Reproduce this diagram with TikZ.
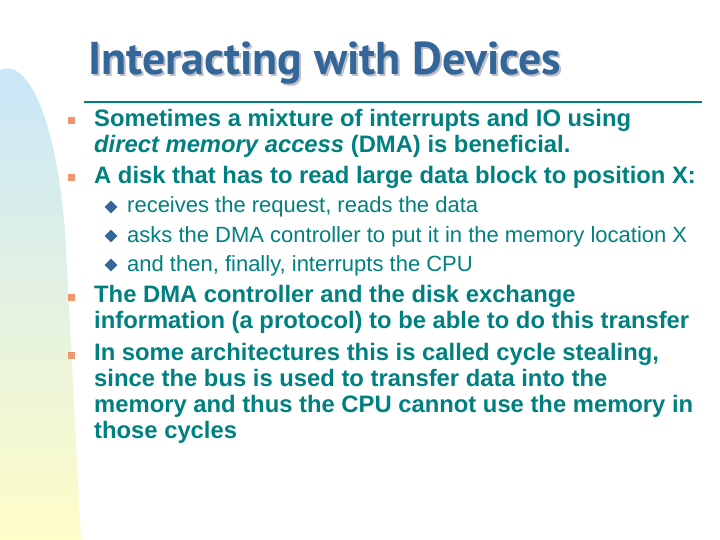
\documentclass[tikz,border=0pt]{standalone}
\usepackage{fontspec}
\setmainfont{Liberation Sans}
\newfontfamily\titlefont{PT Sans}
\definecolor{tealtxt}{RGB}{0,128,128}
\definecolor{titleblue}{RGB}{51,102,153}
\definecolor{shadowgray}{RGB}{190,190,200}
\definecolor{bulor}{RGB}{240,150,110}
\definecolor{topblue}{RGB}{200,230,250}
\definecolor{botyel}{RGB}{255,253,200}
\usetikzlibrary{shapes.geometric}
\begin{document}
\begin{tikzpicture}[x=1pt,y=-1pt,
  main/.style={anchor=base west,inner sep=0pt,text=tealtxt,font=\fontsize{23.8}{26}\selectfont\bfseries},
  sub/.style={anchor=base west,inner sep=0pt,text=tealtxt,font=\fontsize{22}{24}\selectfont},
  sq/.style={fill=bulor,minimum size=7pt,inner sep=0pt},
  dia/.style={diamond,fill=titleblue,minimum size=13pt,inner sep=0pt}]
\useasboundingbox (0,0) rectangle (720,540);
\shade[top color=topblue,bottom color=botyel] (0,540) -- (0,70) .. controls (25,58) and (55,110) .. (65,230) -- (81,540) -- cycle;
\node[anchor=base west,inner sep=0pt,text=shadowgray,font=\titlefont\fontsize{46}{50}\selectfont\bfseries] (ts) at (90,77) {Interacting with Devices};
\node[anchor=base west,inner sep=0pt,text=titleblue,font=\titlefont\fontsize{46}{50}\selectfont\bfseries] (t) at (88,75) {Interacting with Devices};
\coordinate (la) at (84,102); \coordinate (lb) at (702,102);
\draw[tealtxt,line width=1.5pt] (la) -- (lb);
\node[sq] (b1) at (71,121) {};
\node[main] (m1) at (94,127) {Sometimes a mixture of interrupts and IO using};
\node[main] (m2) at (94,153) {\itshape direct memory access\/ \upshape(DMA) is beneficial.};
\node[sq] (b2) at (71,178) {};
\node[main] (m3) at (94,184) {A disk that has to read large data block to position X:};
\node[dia] (d1) at (111,207) {};
\node[sub] (s1) at (127,213) {receives the request, reads the data};
\node[dia] (d2) at (111,236) {};
\node[sub] (s2) at (127,242) {asks the DMA controller to put it in the memory location X};
\node[dia] (d3) at (111,265) {};
\node[sub] (s3) at (127,271) {and then, finally, interrupts the CPU};
\node[sq] (b3) at (71,297) {};
\node[main] (m4) at (94,302) {The DMA controller and the disk exchange};
\node[main] (m5) at (94,328) {information (a protocol) to be able to do this transfer};
\node[sq] (b4) at (71,355) {};
\node[main] (m6) at (94,360) {In some architectures this is called cycle stealing,};
\node[main] (m7) at (94,386) {since the bus is used to transfer data into the};
\node[main] (m8) at (94,412) {memory and thus the CPU cannot use the memory in};
\node[main] (m9) at (94,438) {those cycles};
\end{tikzpicture}
\end{document}
